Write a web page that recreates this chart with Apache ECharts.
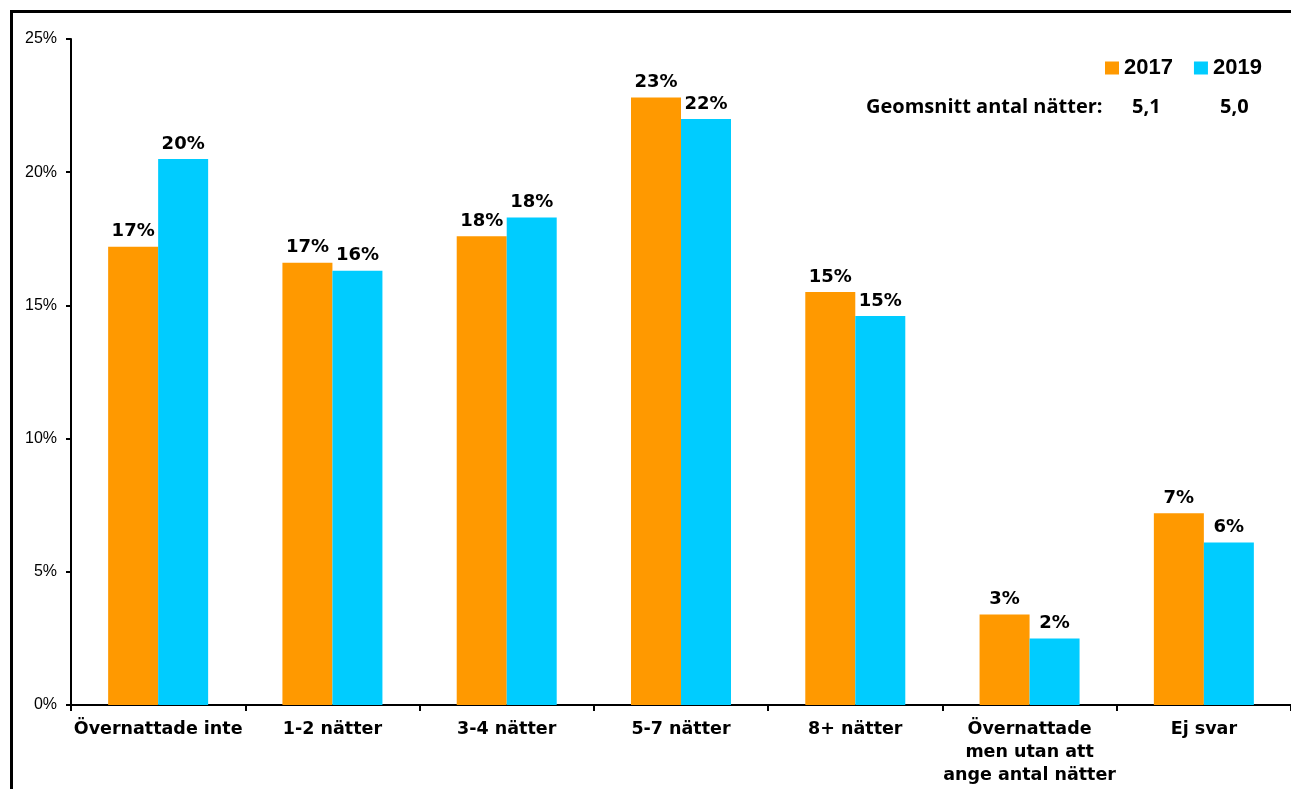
<!DOCTYPE html>
<html><head><meta charset="utf-8">
<script src="https://cdn.jsdelivr.net/npm/echarts@6/dist/echarts.min.js"></script>
<style>html,body{margin:0;padding:0;background:#fff;}#c{width:1291px;height:789px;}</style>
</head><body><div id="c"></div>
<script>
const categories = ['Övernattade inte','1-2 nätter','3-4 nätter','5-7 nätter','8+ nätter','Övernattade\nmen utan att\nange antal nätter','Ej svar'];
const values2017 = [17.2, 16.6, 17.6, 22.8, 15.5, 3.4, 7.2];
const values2019 = [20.5, 16.3, 18.3, 22.0, 14.6, 2.5, 6.1];
const labels2017 = ['17%','17%','18%','23%','15%','3%','7%'];
const labels2019 = ['20%','16%','18%','22%','15%','2%','6%'];
const seriesNames = ['2017','2019'];
const meanLabel = 'Geomsnitt antal nätter:';
const means = ['5,1','5,0'];

const chart = echarts.init(document.getElementById('c'), null, {renderer:'canvas'});
const arial = 'Arial, "Liberation Sans", sans-serif';
const wide = '"DejaVu Sans", Arial, sans-serif';
const calib = '"Open Sans", Lato, sans-serif';
function lbl(arr){
  return {show:true, position:'top', distance:6, color:'#000', fontFamily:wide, fontWeight:'bold', fontSize:18,
    formatter:(p)=>arr[p.dataIndex]};
}
chart.setOption({
  animation:false,
  backgroundColor:'#fff',
  grid:{left:71, top:39, bottom:84, width:1223, containLabel:false},
  legend:{data:seriesNames, left:1100, top:52, itemWidth:14, itemHeight:13, itemGap:21, icon:'rect',
    textStyle:{fontFamily:arial, fontWeight:'bold', fontSize:22, color:'#000'}},
  xAxis:{type:'category', data:categories,
    axisLine:{lineStyle:{color:'#000', width:2}},
    axisTick:{show:true, length:6, lineStyle:{color:'#000', width:2}},
    axisLabel:{color:'#000', fontFamily:wide, fontWeight:'bold', fontSize:17.5, lineHeight:23, margin:13, interval:0}},
  yAxis:{type:'value', min:0, max:25, interval:5,
    axisLine:{show:true, lineStyle:{color:'#000', width:2}},
    axisTick:{show:true, length:5, lineStyle:{color:'#000', width:2}},
    splitLine:{show:false},
    axisLabel:{formatter:'{value}%', color:'#000', fontFamily:arial, fontSize:16, margin:14}},
  series:[
    {name:seriesNames[0], type:'bar', data:values2017, barWidth:50, barGap:'0%', itemStyle:{color:'#FF9900'}, label:lbl(labels2017)},
    {name:seriesNames[1], type:'bar', data:values2019, barWidth:50, itemStyle:{color:'#00CCFF'}, label:lbl(labels2019)}
  ],
  graphic:[
    {type:'rect', shape:{x:11.5, y:11.5, width:1400, height:900}, style:{fill:'none', stroke:'#000', lineWidth:3}, silent:true},
    {type:'text', left:866, top:97, style:{text:meanLabel, font:'bold 20px '+calib, fill:'#000'}},
    {type:'text', left:1132, top:97, style:{text:means[0], font:'bold 20px '+calib, fill:'#000'}},
    {type:'text', left:1220, top:97, style:{text:means[1], font:'bold 20px '+calib, fill:'#000'}}
  ]
});
</script></body></html>
